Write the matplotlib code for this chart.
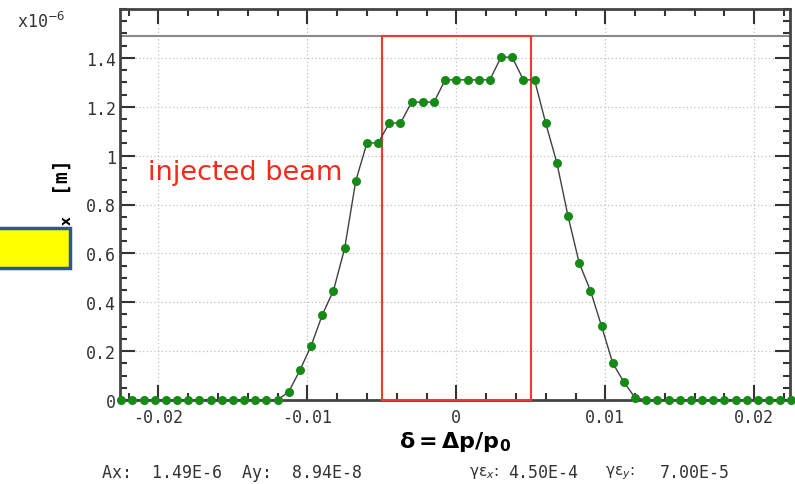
import numpy as np
import matplotlib
matplotlib.use("Agg")
import matplotlib.pyplot as plt
from matplotlib.patches import Rectangle
from matplotlib.ticker import MultipleLocator, FuncFormatter

# momentum deviation grid and horizontal acceptance (units of 1e-6 m)
delta = [-0.0225, -0.02175, -0.021, -0.02025, -0.0195, -0.01875, -0.018, -0.01725,
         -0.0165, -0.01575, -0.015, -0.01425, -0.0135, -0.01275, -0.012, -0.01125,
         -0.0105, -0.00975, -0.009, -0.00825, -0.0075, -0.00675, -0.006, -0.00525,
         -0.0045, -0.00375, -0.003, -0.00225, -0.0015, -0.00075, 0.0, 0.00075,
         0.0015, 0.00225, 0.003, 0.00375, 0.0045, 0.00525, 0.006, 0.00675,
         0.0075, 0.00825, 0.009, 0.00975, 0.0105, 0.01125, 0.012, 0.01275,
         0.0135, 0.01425, 0.015, 0.01575, 0.0165, 0.01725, 0.018, 0.01875,
         0.0195, 0.02025, 0.021, 0.02175, 0.0225]
acc_x = [0, 0, 0, 0, 0, 0, 0, 0, 0, 0, 0, 0, 0, 0, 0,
         0.034, 0.122, 0.222, 0.348, 0.448, 0.620, 0.897, 1.052, 1.052,
         1.133, 1.133, 1.219, 1.219, 1.219, 1.310, 1.310, 1.310, 1.310, 1.310,
         1.403, 1.403, 1.310, 1.310, 1.133, 0.970, 0.752, 0.560, 0.448,
         0.302, 0.151, 0.073, 0.009,
         0, 0, 0, 0, 0, 0, 0, 0, 0, 0, 0, 0, 0, 0]

Ax = 1.49
beam_dp = 0.005
xticks = [-0.02, -0.01, 0, 0.01, 0.02]
yticks = [0, 0.2, 0.4, 0.6, 0.8, 1.0, 1.2, 1.4]

mono = "DejaVu Sans Mono"
plt.rcParams["font.family"] = mono
plt.rcParams["mathtext.fontset"] = "dejavusans"

fig = plt.figure(figsize=(7.95, 4.85), dpi=100)
ax = fig.add_axes([120/795, 84/485, 670/795, 391/485])

ax.set_xlim(-0.02258, 0.0224)
ax.set_ylim(0, 1.6)

ax.plot(delta, acc_x, "-", color="#404040", lw=1, zorder=4)
ax.plot(delta, acc_x, "o", color="#168a16", ms=6.5, mew=0, zorder=5, clip_on=False)
ax.axhline(Ax, color="#8a8a8a", lw=1.5, zorder=2)
ax.add_patch(Rectangle((-beam_dp, 0), 2*beam_dp, Ax, fill=False,
                       edgecolor="#ec3a2e", lw=1.5, zorder=3, clip_on=False))
ax.text(-0.0142, 0.935, "injected beam", color="#f52a1a", fontsize=19.5,
        family="DejaVu Sans", ha="center", va="center")

ax.set_xticks(xticks)
ax.set_yticks(yticks)
ax.xaxis.set_minor_locator(MultipleLocator(0.002))
ax.yaxis.set_minor_locator(MultipleLocator(0.05))
fmt = FuncFormatter(lambda v, p: "%g" % round(v, 4))
ax.xaxis.set_major_formatter(fmt)
ax.yaxis.set_major_formatter(fmt)
ax.tick_params(which="both", direction="in", top=True, right=True,
               color="#333333", labelsize=12, labelcolor="#333333")
ax.tick_params(which="major", length=11, width=1.5)
ax.tick_params(which="minor", length=5, width=1.5)
ax.tick_params(axis="y", pad=3)
ax.tick_params(axis="x", pad=6)
for s in ax.spines.values():
    s.set_color("#444444")
    s.set_linewidth(2)
ax.grid(True, which="major", color="#c0c0c0", ls=(0, (1, 2)), lw=0.9)

ax.set_xlabel(r"$\mathbf{\delta=\Delta p/p_0}$", fontsize=16, labelpad=2)
ax.set_ylabel(r"$\mathbf{\epsilon_x}\enspace$ [m]", fontsize=14, fontweight="bold")
ax.yaxis.set_label_coords(-0.07, 0.515)

fig.text(17/795, 1-22/485, r"x10$^{-6}$", fontsize=12, color="#333333", va="center")

fig.add_artist(Rectangle((-0.01, 216/485), 70/795 + 0.01, 40/485,
                         transform=fig.transFigure, facecolor="#ffff00",
                         edgecolor="#2f5597", lw=2.5))

ty = 1 - 473/485
fig.text(102/795, ty, "Ax:  1.49E-6  Ay:  8.94E-8", fontsize=12, color="#333333", va="center")
fig.text(469/795, ty, r"γε$_x$:", fontsize=11, color="#333333", va="center",
         family="DejaVu Sans")
fig.text(508/795, ty, "4.50E-4", fontsize=12, color="#333333", va="center")
fig.text(605/795, ty, r"γε$_y$:", fontsize=11, color="#333333", va="center",
         family="DejaVu Sans")
fig.text(660/795, ty, "7.00E-5", fontsize=12, color="#333333", va="center")

fig.savefig("out.png", dpi=100)
